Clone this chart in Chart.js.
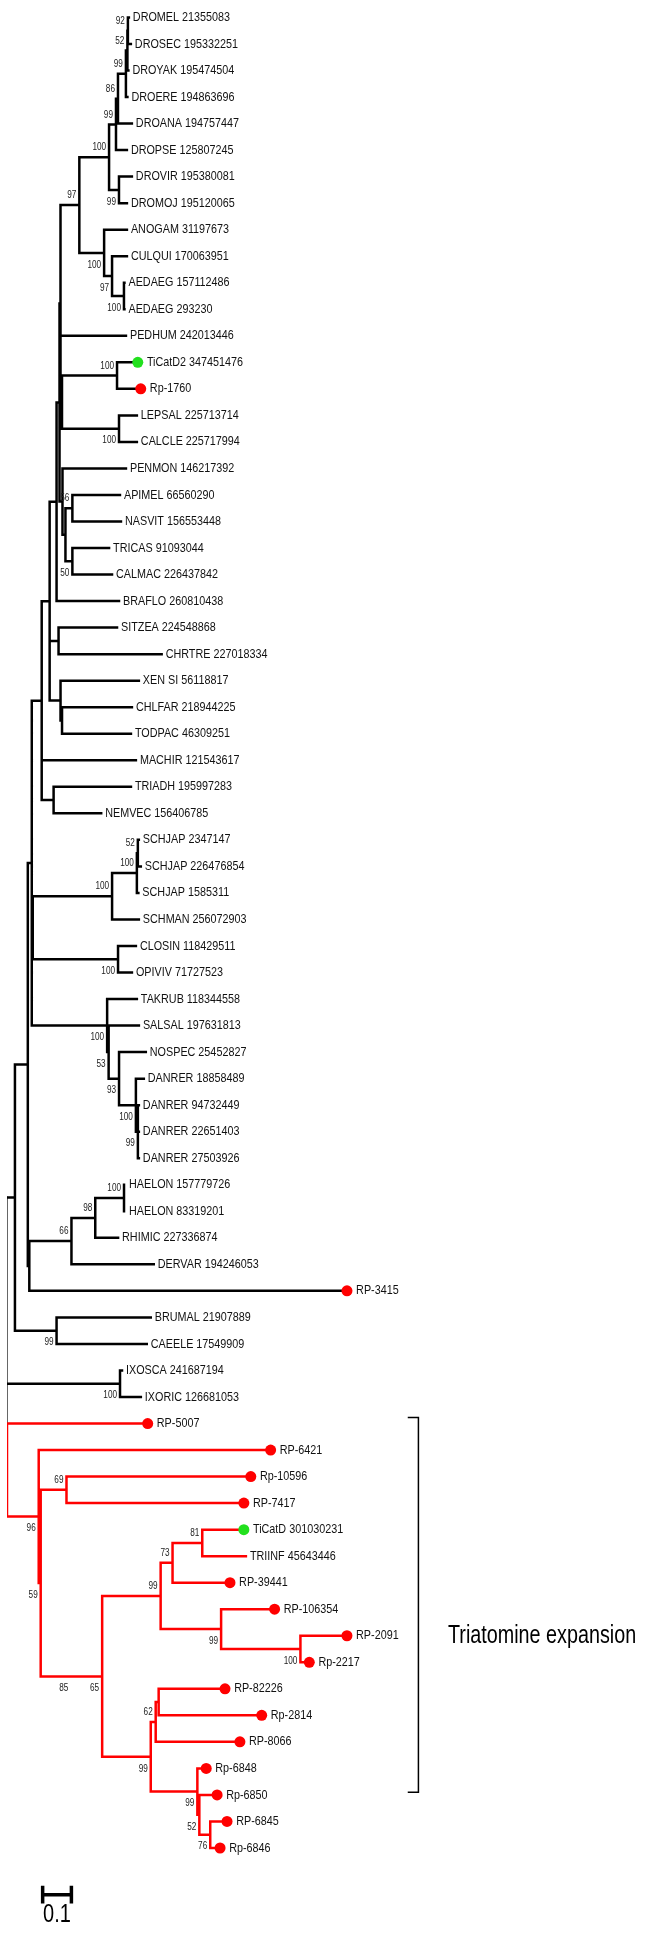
<!DOCTYPE html>
<html>
<head>
<meta charset="utf-8">
<script src="https://cdn.jsdelivr.net/npm/chart.js@4.4.1/dist/chart.umd.min.js"></script>
<style>
  html, body { margin: 0; padding: 0; background: #fff; }
  #wrap { width: 646px; height: 1936px; position: relative; }
</style>
</head>
<body>
<div id="wrap"><canvas id="tree"></canvas></div>
<script>
// tree pieces in newick, branch lengths in substitutions/site, bootstrap after ")"
const drosophila = '((((((DROMEL_21355083:0.0034,DROSEC_195332251:0.0103)92:0.0017,DROYAK_195474504:0.0034)52:0.0052,DROERE_194863696:0.0052)99:0.0276,DROANA_194757447:0.0483)86:0.0069,DROPSE_125807245:0.0379)99:0.0241,(DROVIR_195380081:0.0448,DROMOJ_195120065:0.0276)99:0.0345)100:0.1034';
const mosquitoes = '(ANOGAM_31197673:0.0793,(CULQUI_170063951:0.0517,(AEDAEG_157112486:0.0017,AEDAEG_293230:0.0017)100:0.0414)97:0.0276)100:0.0862';
const lice = '((TiCatD2_347451476:0.0552,Rp-1760:0.0655)100:0.1914,(LEPSAL_225713714:0.0621,CALCLE_225717994:0.0621)100:0.1983):0.0052';
const hymCol = '(PENMON_146217392:0.2207,((APIMEL_66560290:0.1655,NASVIT_156553448:0.1690)56:0.0241,(TRICAS_91093044:0.1276,CALMAC_226437842:0.1379)50:0.0241):0.0103):0.0103';
const insects = '(((' + drosophila + ',' + mosquitoes + ')97:0.0655,PEDHUM_242013446:0.2276,' + lice + '):0.0034,' + hymCol + '):0.0103';
const deutero = '((' + insects + ',BRAFLO_260810438:0.2172):0.0241,(SITZEA_224548868:0.2034,CHRTRE_227018334:0.3586):0.0310,(XEN_SI_56118817:0.2724,(CHLFAR_218944225:0.2431,TODPAC_46309251:0.2397):0.0052):0.0379):0.0276';
const basal = '(' + deutero + ',MACHIR_121543617:0.3276,(TRIADH_195997283:0.2690,NEMVEC_156406785:0.1655):0.0414):0.0345';
const flatworms = '((((SCHJAP_2347147:0.0034,SCHJAP_226476854:0.0103)52:0.0034,SCHJAP_1585311:0.0052)100:0.0862,SCHMAN_256072903:0.0931)100:0.2759,(CLOSIN_118429511:0.0621,OPIVIV_71727523:0.0483)100:0.2966):0.0034';
const fish = '(TAKRUB_118344558:0.1034,(SALSAL_197631813:0.1052,(NOSPEC_25452827:0.0931,(DANRER_18858489:0.0276,(DANRER_94732449:0.0034,DANRER_22651403:0.0034,DANRER_27503926:0.0034)99:0.0069)100:0.0586)93:0.0362)53:0.0052)100:0.2621';
const ticks = '((((HAELON_157779726:0.0034,HAELON_83319201:0.0034)100:0.1000,RHIMIC_227336874:0.0793)98:0.0828,DERVAR_194246053:0.2862)66:0.1466,RP-3415:1.0879):0.0052';
const nematodes = '(BRUMAL_21907889:0.3276,CAEELE_17549909:0.3138)99:0.1448';
const ixodes = '(IXOSCA_241687194:0.0069,IXORIC_126681053:0.0724)100:0.3931';
const triatomine = '(RP-5007:0.4724,(RP-6421:0.7897,((Rp-10596:0.6241,RP-7417:0.6000)69:0.0897,(((((TiCatD_301030231:0.1276,TRIINF_45643446:0.1517)81:0.1034,RP-39441:0.1828)73:0.0414,(RP-106354:0.1690,(RP-2091:0.1448,Rp-2217:0.0138)100:0.2759)99:0.2103)99:0.2034,(((RP-82226:0.2138,Rp-2814:0.3414):0.0103,RP-8066:0.2759)62:0.0172,(Rp-6848:0.0138,(Rp-6850:0.0448,(RP-6845:0.0414,Rp-6846:0.0172)76:0.0379)52:0.0069)99:0.1621)99:0.1690)65:0.1069)85:0.1069)59:0.0069)96:0.1103';
const treeString = '((((' + basal + ',' + flatworms + ',' + fish + '):0.0138,' + ticks + '):0.0448,' + nematodes + '):0.0276,' + ixodes + ',' + triatomine + ');';

const expansion = ['RP-5007', 'RP-6421', 'Rp-10596', 'RP-7417', 'TiCatD_301030231', 'TRIINF_45643446', 'RP-39441',
  'RP-106354', 'RP-2091', 'Rp-2217', 'RP-82226', 'Rp-2814', 'RP-8066', 'Rp-6848', 'Rp-6850', 'RP-6845', 'Rp-6846'];
const redDots = ['Rp-1760', 'RP-3415', 'RP-5007', 'RP-6421', 'Rp-10596', 'RP-7417', 'RP-39441', 'RP-106354',
  'RP-2091', 'Rp-2217', 'RP-82226', 'Rp-2814', 'RP-8066', 'Rp-6848', 'Rp-6850', 'RP-6845', 'Rp-6846'];
const greenDots = ['TiCatD2_347451476', 'TiCatD_301030231'];
const scaleBarLength = 0.1;
const bracketLabel = 'Triatomine expansion';

// layout constants
const dotGap = 0.017;
const bracketX = 1.431, bracketTop = 52.77, bracketBottom = 66.9;
const barX = 0.124, barY = 70.76;

function parseNewick(s) {
  let i = 0;
  function node() {
    const n = { children: [] };
    if (s[i] === '(') {
      i++;
      n.children.push(node());
      while (s[i] === ',') { i++; n.children.push(node()); }
      i++;
    }
    let name = '';
    while (i < s.length && !':,);'.includes(s[i])) name += s[i++];
    n.name = name;
    n.length = 0;
    if (s[i] === ':') {
      i++;
      let len = '';
      while (i < s.length && !',);'.includes(s[i])) len += s[i++];
      n.length = parseFloat(len);
    }
    return n;
  }
  return node();
}

const root = parseNewick(treeString);
let leafCount = 0;
const leaves = [], inner = [];
function layout(n, depth, parent) {
  n.x = depth + n.length;
  n.parent = parent;
  if (!n.children.length) {
    n.y = leafCount++;
    n.leaves = [n.name];
    leaves.push(n);
  } else {
    n.children.forEach(c => layout(c, n.x, n));
    n.y = (n.children[0].y + n.children[n.children.length - 1].y) / 2;
    n.leaves = n.children.flatMap(c => c.leaves);
    inner.push(n);
  }
}
layout(root, 0, null);

const blackLines = [], redLines = [], rootLines = [];
function seg(arr, x1, y1, x2, y2) { arr.push({x: x1, y: y1}, {x: x2, y: y2}, {x: x2, y: null}); }
const isRed = n => n.leaves.every(l => expansion.includes(l));
function walk(n) {
  if (!n.children.length) return;
  const first = n.children[0], last = n.children[n.children.length - 1];
  seg(n === root ? rootLines : (isRed(n) ? redLines : blackLines), n.x, first.y, n.x, last.y);
  n.children.forEach(c => {
    seg(isRed(c) ? redLines : blackLines, n.x, c.y, c.x, c.y);
    walk(c);
  });
}
walk(root);

const redPts = leaves.filter(l => redDots.includes(l.name)).map(l => ({x: l.x + dotGap, y: l.y}));
const greenPts = leaves.filter(l => greenDots.includes(l.name)).map(l => ({x: l.x + dotGap, y: l.y}));

const bracket = [
  {x: bracketX - 0.0345, y: bracketTop}, {x: bracketX, y: bracketTop},
  {x: bracketX, y: bracketBottom}, {x: bracketX - 0.0345, y: bracketBottom}
];
const scaleBar = [];
seg(scaleBar, barX, barY, barX + scaleBarLength, barY);
seg(scaleBar, barX, barY - 0.27, barX, barY + 0.27);
seg(scaleBar, barX + scaleBarLength, barY - 0.27, barX + scaleBarLength, barY + 0.27);

const FONT = '"Liberation Sans", Arial, sans-serif';
function squeezed(ctx, text, x, y, size, sx, align, color) {
  ctx.save();
  ctx.font = size + 'px ' + FONT;
  ctx.textAlign = align;
  ctx.textBaseline = 'middle';
  ctx.fillStyle = color;
  ctx.translate(x, y);
  ctx.scale(sx, 1);
  ctx.fillText(text, 0, 0);
  ctx.restore();
}

const treeLabels = {
  id: 'treeLabels',
  afterDatasetsDraw(chart) {
    const {ctx, scales: {x, y}} = chart;
    leaves.forEach(l => {
      const dot = redDots.includes(l.name) || greenDots.includes(l.name);
      squeezed(ctx, l.name.replace(/_/g, ' '), x.getPixelForValue(l.x) + (dot ? 14 : 4),
        y.getPixelForValue(l.y), 13, 0.83, 'left', '#111');
    });
    inner.forEach(n => {
      if (!n.name || !n.parent) return;
      const above = n.y < n.parent.y;
      squeezed(ctx, n.name, x.getPixelForValue(n.x) - 3,
        y.getPixelForValue(n.y) + (above ? -9.5 : 12), 10, 0.82, 'right', '#222');
    });
    squeezed(ctx, bracketLabel, x.getPixelForValue(1.534), y.getPixelForValue(61.0), 25, 0.79, 'left', '#000');
    squeezed(ctx, String(scaleBarLength), x.getPixelForValue(barX + scaleBarLength / 2), y.getPixelForValue(barY) + 20,
      25, 0.8, 'center', '#000');
  }
};

const line = (data, color, width) => ({
  data, showLine: true, borderColor: color, borderWidth: width, pointRadius: 0,
  borderCapStyle: 'square', spanGaps: false
});

new Chart(document.getElementById('tree'), {
  type: 'scatter',
  data: {
    datasets: [
      {data: greenPts, pointRadius: 5.5, backgroundColor: '#22e01e', borderWidth: 0},
      {data: redPts, pointRadius: 5.5, backgroundColor: '#ff0000', borderWidth: 0},
      line(redLines, '#ff0000', 2.5),
      line(blackLines, '#000000', 2.5),
      line(rootLines, '#666666', 2),
      line(bracket, '#000000', 1.5),
      line(scaleBar, '#000000', 3.5)
    ]
  },
  options: {
    responsive: true,
    maintainAspectRatio: false,
    animation: false,
    events: [],
    layout: {padding: {left: 7, right: 0, top: 0, bottom: 0}},
    plugins: {legend: {display: false}, tooltip: {enabled: false}},
    scales: {
      x: {type: 'linear', display: false, min: 0, max: 639 / 290},
      y: {type: 'linear', display: false, reverse: true, min: -0.45, max: 72.11}
    }
  },
  plugins: [treeLabels]
});
</script>
</body>
</html>
